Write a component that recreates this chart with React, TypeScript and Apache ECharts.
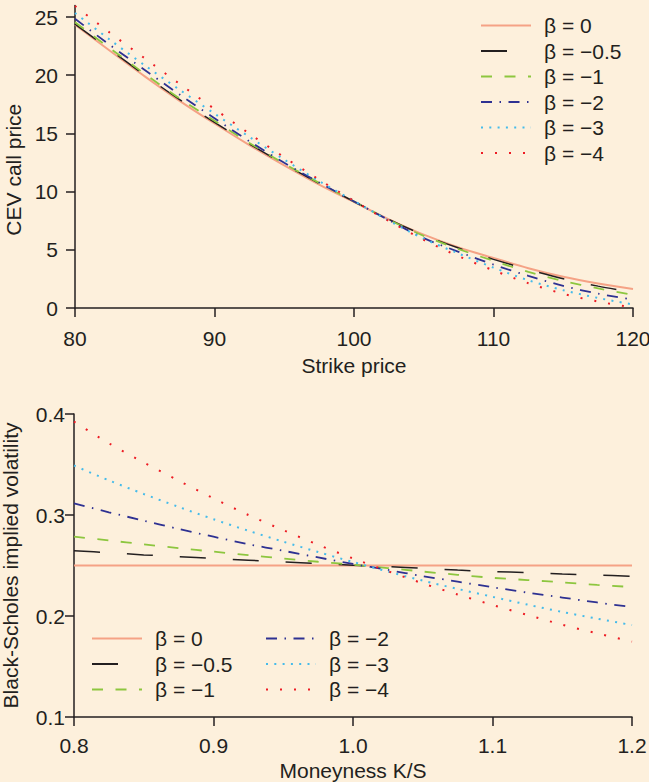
import React, { useEffect, useRef } from "react";
import * as echarts from "echarts";

// ---------- data ----------
const strikes = [80, 82.5, 85, 87.5, 90, 92.5, 95, 97.5, 100, 102.5, 105, 107.5, 110, 112.5, 115, 117.5, 120];
const cevBeta0 = [24.35, 22.1, 19.9, 17.8, 15.85, 14.0, 12.25, 10.6, 9.1, 7.62, 6.3, 5.2, 4.3, 3.42, 2.68, 2.1, 1.63];
const cevBetaM05 = [24.4, 22.2, 20.0, 17.9, 15.95, 14.1, 12.35, 10.7, 9.15, 7.62, 6.27, 5.15, 4.18, 3.3, 2.52, 1.88, 1.35];
const cevBetaM1 = [24.55, 22.32, 20.12, 18.0, 16.08, 14.18, 12.4, 10.75, 9.15, 7.58, 6.2, 5.06, 4.05, 3.1, 2.31, 1.69, 1.12];
const cevBetaM2 = [24.85, 22.6, 20.45, 18.34, 16.3, 14.33, 12.48, 10.78, 9.15, 7.55, 6.0, 4.83, 3.73, 2.76, 1.9, 1.23, 0.72];
const cevBetaM3 = [25.35, 23.05, 20.85, 18.75, 16.7, 14.7, 12.75, 10.9, 9.2, 7.5, 5.95, 4.68, 3.47, 2.38, 1.53, 0.86, 0.3];
const cevBetaM4 = [25.95, 23.65, 21.45, 19.25, 17.1, 14.98, 12.95, 11.03, 9.2, 7.47, 5.85, 4.45, 3.23, 2.13, 1.22, 0.55, 0.05];

const moneyness = [0.8, 0.825, 0.85, 0.875, 0.9, 0.925, 0.95, 0.975, 1.0, 1.025, 1.05, 1.075, 1.1, 1.125, 1.15, 1.175, 1.2];
const ivBeta0 = [0.25, 0.25, 0.25, 0.25, 0.25, 0.25, 0.25, 0.25, 0.25, 0.25, 0.25, 0.25, 0.25, 0.25, 0.25, 0.25, 0.25];
const ivBetaM05 = [0.2647, 0.2627, 0.2605, 0.2588, 0.257, 0.2553, 0.2535, 0.2519, 0.2502, 0.2488, 0.2472, 0.2455, 0.244, 0.243, 0.2416, 0.2405, 0.2393];
const ivBetaM1 = [0.2785, 0.2748, 0.271, 0.2672, 0.2637, 0.2602, 0.257, 0.2537, 0.2508, 0.2475, 0.244, 0.2408, 0.2378, 0.2356, 0.2333, 0.2308, 0.2287];
const ivBetaM2 = [0.3115, 0.3027, 0.2944, 0.2862, 0.2785, 0.2711, 0.2646, 0.258, 0.2515, 0.2456, 0.2395, 0.234, 0.2285, 0.2232, 0.2183, 0.2134, 0.2088];
const ivBetaM3 = [0.349, 0.3343, 0.3208, 0.308, 0.2958, 0.2844, 0.2736, 0.2633, 0.2535, 0.244, 0.235, 0.2268, 0.219, 0.2113, 0.204, 0.1974, 0.191];
const ivBetaM4 = [0.3924, 0.371, 0.352, 0.334, 0.3165, 0.3, 0.285, 0.2705, 0.257, 0.2444, 0.2323, 0.2213, 0.2109, 0.201, 0.1914, 0.1828, 0.1746];

const betaLabels = ["β = 0", "β = −0.5", "β = −1", "β = −2", "β = −3", "β = −4"];
const topYTicks = [0, 5, 10, 15, 20, 25];

const cevSeries = [cevBeta0, cevBetaM05, cevBetaM1, cevBetaM2, cevBetaM3, cevBetaM4];
const ivSeries = [ivBeta0, ivBetaM05, ivBetaM1, ivBetaM2, ivBetaM3, ivBetaM4];

// ---------- styles ----------
const FONT = '"Liberation Sans", Arial, Helvetica, sans-serif';
const INK = "#231f20";
const BG = "#fdf0dc";
const FS = 21;
const lineStyles: any[] = [
  { color: "#f5a285", width: 2, type: "solid" },
  { color: "#231f20", width: 1.5, type: [26, 27] },
  { color: "#8dc63f", width: 1.8, type: [11, 12.5] },
  { color: "#2e3192", width: 1.8, type: [11, 7.5, 1.5, 7.5] },
  { color: "#45bbea", width: 2, type: [2, 6.3] },
  { color: "#ed1c24", width: 2, type: [2, 12] },
];

const axisCommon = (extra: any) => ({
  type: "value",
  axisLine: { show: true, onZero: false, lineStyle: { color: INK, width: 1.5 } },
  axisTick: { show: true, length: 9, lineStyle: { color: INK, width: 1.5 } },
  splitLine: { show: false },
  nameLocation: "middle",
  nameTextStyle: { fontSize: FS, color: INK, fontFamily: FONT },
  ...extra,
});

const legendCommon = {
  orient: "vertical",
  padding: 0,
  itemWidth: 50,
  itemHeight: 14,
  itemGap: 4.5,
  selectedMode: false,
  itemStyle: { opacity: 0, borderWidth: 0 },
  textStyle: { fontSize: FS, color: INK, fontFamily: FONT, padding: [0, 0, 0, 8] },
};

export default function App() {
  const ref = useRef<HTMLDivElement>(null);

  useEffect(() => {
    if (!ref.current) return;
    const chart = echarts.init(ref.current, null, { renderer: "svg" });

    const series: any[] = [];
    cevSeries.forEach((vals, i) => {
      series.push({
        type: "line",
        name: betaLabels[i],
        xAxisIndex: 0,
        yAxisIndex: 0,
        data: strikes.map((k, j) => [k, vals[j]]),
        symbol: "none",
        showSymbol: false,
        smooth: 0.3,
        lineStyle: lineStyles[i],
        itemStyle: { color: lineStyles[i].color },
        z: 2 + i,
      });
    });
    ivSeries.forEach((vals, i) => {
      series.push({
        type: "line",
        name: betaLabels[i],
        xAxisIndex: 1,
        yAxisIndex: 1,
        data: moneyness.map((m, j) => [m, vals[j]]),
        symbol: "none",
        showSymbol: false,
        smooth: 0.3,
        lineStyle: lineStyles[i],
        itemStyle: { color: lineStyles[i].color },
        z: 2 + i,
      });
    });

    chart.setOption({
      animation: false,
      backgroundColor: BG,
      textStyle: { fontFamily: FONT },
      grid: [
        { left: 75, right: 16, top: 5.4, bottom: 474, outerBoundsMode: "none" },
        { left: 74, right: 17, top: 414, bottom: 65, outerBoundsMode: "none" },
      ],
      legend: [
        { ...legendCommon, data: betaLabels, left: 480, top: 15 },
        { ...legendCommon, data: betaLabels.slice(0, 3), left: 91, top: 628 },
        { ...legendCommon, data: betaLabels.slice(3), left: 265, top: 628 },
      ],
      xAxis: [
        axisCommon({
          gridIndex: 0,
          min: 80,
          max: 120,
          interval: 10,
          name: "Strike price",
          nameGap: 47,
          axisLabel: { margin: 20, fontSize: FS, color: INK, fontFamily: FONT },
        }),
        axisCommon({
          gridIndex: 1,
          min: 0.8,
          max: 1.2,
          interval: 0.1,
          name: "Moneyness K/S",
          nameGap: 43,
          axisLabel: {
            margin: 18,
            fontSize: FS,
            color: INK,
            fontFamily: FONT,
            formatter: (v: number) => v.toFixed(1),
          },
        }),
      ],
      yAxis: [
        axisCommon({
          gridIndex: 0,
          min: 0,
          max: 26,
          name: "CEV call price",
          nameRotate: 90,
          nameGap: 38,
          nameTextStyle: { fontSize: FS, color: INK, fontFamily: FONT, padding: [0, 26, 0, 0] },
          axisTick: { show: true, length: 9, lineStyle: { color: INK, width: 1.5 }, customValues: topYTicks },
          axisLabel: { margin: 17, fontSize: FS, color: INK, fontFamily: FONT, customValues: topYTicks },
        }),
        axisCommon({
          gridIndex: 1,
          min: 0.1,
          max: 0.4,
          interval: 0.1,
          name: "Black-Scholes implied volatility",
          nameRotate: 90,
          nameGap: 53,
          axisLabel: {
            margin: 9,
            fontSize: FS,
            color: INK,
            fontFamily: FONT,
            formatter: (v: number) => v.toFixed(1),
          },
        }),
      ],
      series,
    });

    return () => chart.dispose();
  }, []);

  return (
    <div
      ref={ref}
      style={{ position: "fixed", left: 0, top: 0, width: 649, height: 782, background: BG }}
    />
  );
}
